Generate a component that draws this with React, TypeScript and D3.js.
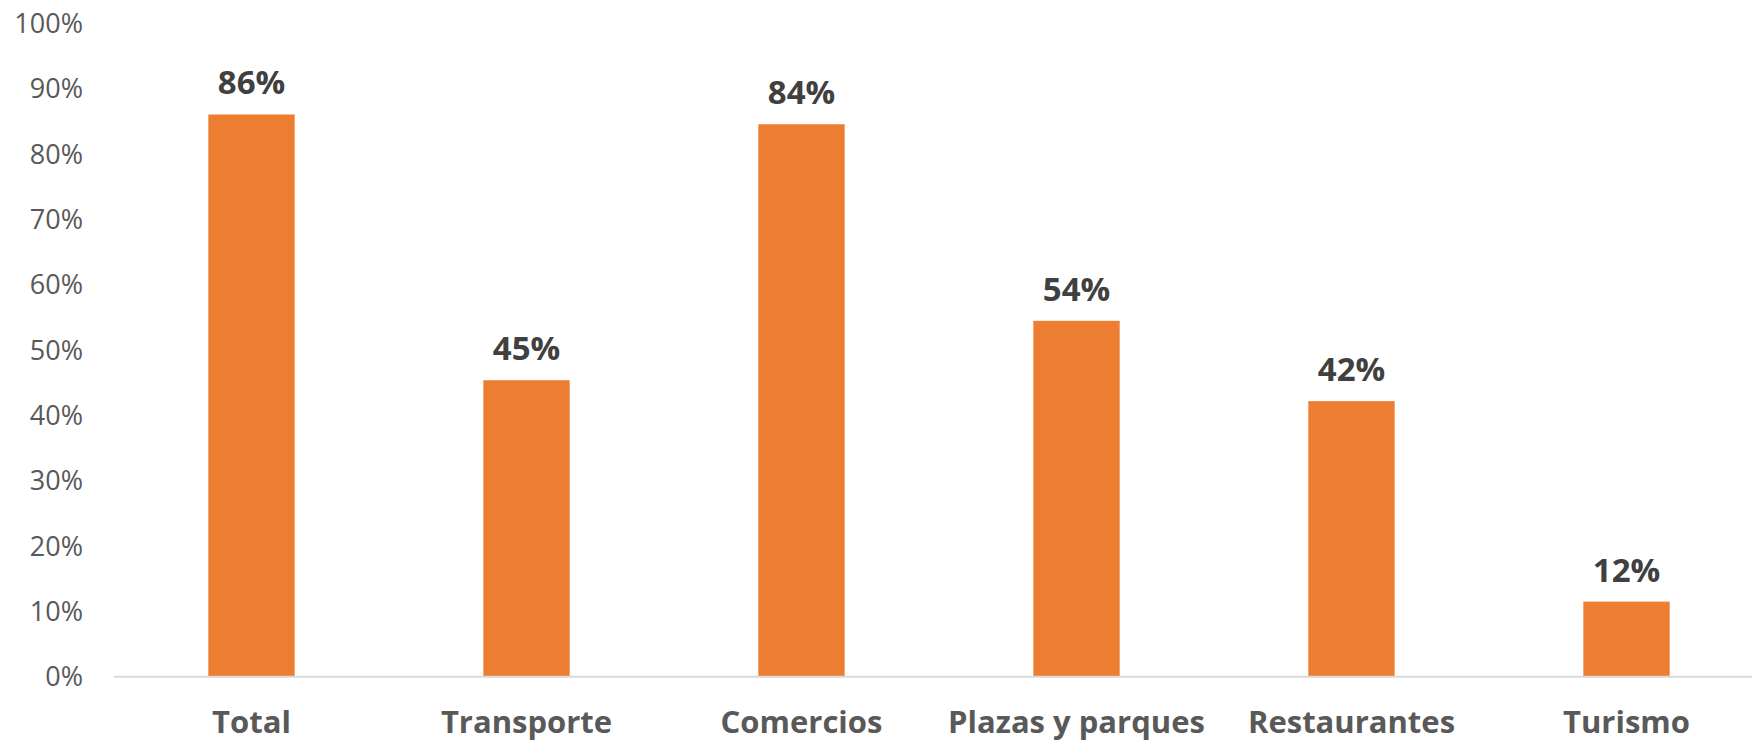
import React from "react";
import * as d3 from "d3";

const categories = ["Total", "Transporte", "Comercios", "Plazas y parques", "Restaurantes", "Turismo"];
const values = [0.861, 0.454, 0.846, 0.545, 0.422, 0.115];
const valueLabels = ["86%", "45%", "84%", "54%", "42%", "12%"];
const yTicks = [0, 0.1, 0.2, 0.3, 0.4, 0.5, 0.6, 0.7, 0.8, 0.9, 1.0];

const W = 1752;
const H = 742;
const FONT = "'Open Sans', sans-serif";

export default function App() {
  const x = d3.scaleBand<string>().domain(categories).range([114, 1764]).paddingInner(0.686).paddingOuter(0.343);
  const y = d3.scaleLinear().domain([0, 1]).range([676.7, 23.7]);
  const fmt = d3.format(".0%");
  return (
    <svg width={W} height={H} style={{ position: "absolute", left: 0, top: 0, background: "#fff" }}>
      {yTicks.map((t) => (
        <text key={t} x={83} y={y(t)} dy="0.35em" textAnchor="end" fontFamily={FONT} fontSize={27} fill="#595959">
          {fmt(t)}
        </text>
      ))}
      {categories.map((c, i) => (
        <g key={c}>
          <rect x={x(c)} y={y(values[i])} width={x.bandwidth()} height={y(0) - y(values[i])} fill="#ED7D31" />
          <text x={(x(c) as number) + x.bandwidth() / 2} y={y(values[i]) - 20} textAnchor="middle" fontFamily={FONT} fontSize={33} fontWeight="bold" fill="#404040">
            {valueLabels[i]}
          </text>
          <text x={(x(c) as number) + x.bandwidth() / 2} y={733} textAnchor="middle" fontFamily={FONT} fontSize={31} fontWeight="bold" fill="#595959">
            {c}
          </text>
        </g>
      ))}
      <line x1={114} x2={W} y1={y(0)} y2={y(0)} stroke="#d9d9d9" strokeWidth={2} />
    </svg>
  );
}
